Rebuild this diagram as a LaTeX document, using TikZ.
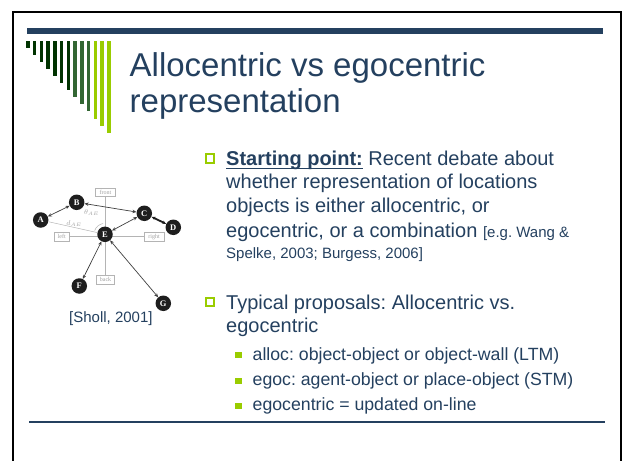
\documentclass[tikz,border=0pt]{standalone}
\usepackage{fontspec}
\setmainfont{Liberation Sans}
\newfontfamily\imgserif{Liberation Serif}
\usetikzlibrary{arrows.meta}
\definecolor{titleblue}{HTML}{24405F}
\definecolor{bargreenA}{HTML}{003300}
\definecolor{bargreenB}{HTML}{336633}
\definecolor{bargreenC}{HTML}{99CC00}
\definecolor{imggray}{HTML}{B4B4B4}
\definecolor{nodeblack}{HTML}{1E1E1E}
\newcommand\myul[1]{\setbox0\hbox{#1}\rlap{\rule[-4.2pt]{\wd0}{1.5pt}}\box0\relax}
\frenchspacing
\begin{document}
\begin{tikzpicture}[x=1pt,y=-1pt,
  txt/.style={inner sep=0pt,anchor=base west,text=titleblue},
  titletxt/.style={txt,font=\fontsize{33}{39}\selectfont},
  bodytxt/.style={txt,font=\fontsize{20}{24}\selectfont},
  subtxt/.style={txt,font=\fontsize{17.7}{21}\selectfont},
  smalltxt/.style={txt,font=\fontsize{15}{18}\selectfont},
  hollowbullet/.style={draw=bargreenC,line width=1.8pt},
  fillbullet/.style={fill=bargreenC},
  obj/.style={circle,fill=nodeblack,minimum size=15.5pt,inner sep=0pt,text=white,font=\imgserif\bfseries\fontsize{8.5}{8.5}\selectfont},
  dirbox/.style={draw=imggray,fill=white,inner sep=0.5pt,minimum height=8.5pt,line width=0.5pt,font=\imgserif\fontsize{6}{6}\selectfont,text=imggray!90!black},
  axis/.style={draw=imggray,line width=0.5pt},
  tipA/.tip={Stealth[length=4pt,width=3.4pt]},
  rel/.style={tipA-tipA,line width=0.7pt,draw=nodeblack!85},
  relthick/.style={tipA-tipA,line width=1.8pt,draw=nodeblack},
  lbl/.style={inner sep=0pt,text=imggray!90!black,font=\fontsize{7}{7}\selectfont}
]
\useasboundingbox (0,0) rectangle (622,461);
% frame
\draw[line width=2pt] (13,462) -- (13,12) -- (621,12) -- (621,462);
% top bar
\fill[titleblue] (27,28) rectangle (603,34);
% green bars
\foreach \i in {0,...,12}{
  \pgfmathsetmacro{\xl}{26+6.75*\i}
  \pgfmathsetmacro{\yb}{47.7+7.08*\i}
  \ifnum\i<7 \def\bc{bargreenA}\else\ifnum\i<10 \def\bc{bargreenB}\else\def\bc{bargreenC}\fi\fi
  \fill[\bc] (\xl,40.5) rectangle ({\xl+3.7},\yb);
}
% bottom line
\draw[titleblue,line width=1.3pt] (29,422) -- (605,422);

% title
\node[titletxt] (t1) at (129.5,76) {Allocentric vs egocentric};
\node[titletxt] (t2) at (129.5,112.7) {representation};

% figure (Sholl, 2001)
\node[dirbox,minimum width=20pt] (front) at (105.5,192) {front};
\node[dirbox,minimum width=15pt] (left) at (61.7,236.7) {left};
\node[dirbox,minimum width=20pt] (right) at (154,236.7) {right};
\node[dirbox,minimum width=18pt] (back) at (105.5,279.7) {back};
\draw[axis] (front.south) -- (back.north);
\draw[axis] (left.east) -- (right.west);
\node[obj] (A) at (40.7,220) {A};
\node[obj] (B) at (76.7,202.3) {B};
\node[obj] (C) at (144.3,213.3) {C};
\node[obj] (D) at (173.3,227.3) {D};
\node[obj] (E) at (105,234.3) {E};
\node[obj] (F) at (79.3,286) {F};
\node[obj] (G) at (163.3,303.3) {G};
\draw[axis] (A) -- (E);
\node[lbl] (dae) at (74,223.5) {$d_{AE}$};
\node[lbl] (tae) at (91.5,212.5) {$\theta_{AE}$};
\draw[axis] (103.1,223.5) arc[start angle=-100,end angle=-160,radius=11];
\draw[rel] (A) -- (B);
\draw[rel] (B) -- (C);
\draw[rel] (C) -- (E);
\draw[relthick] (C) -- (D);
\draw[rel] (E) -- (F);
\draw[rel] (E) -- (G);
\node[smalltxt] (sholl) at (69,322) {[Sholl, 2001]};

% bullet 1
\draw[hollowbullet] (205.7,154) rectangle (214.3,162.6);
\node[bodytxt] (b1l1) at (226,165) {\myul{\bfseries Starting point:} Recent debate about};
\node[bodytxt] (b1l2) at (226,188.5) {whether representation of locations};
\node[bodytxt] (b1l3) at (226,212.5) {objects is either allocentric, or};
\node[bodytxt] (b1l4) at (226,237) {egocentric, or a combination {\fontsize{15}{18}\selectfont [e.g. Wang \&}};
\node[smalltxt] (b1l5) at (226,258) {Spelke, 2003; Burgess, 2006]};

% bullet 2
\draw[hollowbullet] (205.7,297.7) rectangle (214.3,306.3);
\node[bodytxt] (b2l1) at (226,309) {Typical proposals: Allocentric vs.};
\node[bodytxt] (b2l2) at (226,332) {egocentric};

% sub bullets
\fill[bargreenC] (235,351.5) rectangle (241.5,358);
\fill[bargreenC] (235,377.5) rectangle (241.5,384);
\fill[bargreenC] (235,402.5) rectangle (241.5,409);
\node[subtxt] (s1) at (252.5,360) {alloc: object-object or object-wall (LTM)};
\node[subtxt] (s2) at (252.5,385.5) {egoc: agent-object or place-object (STM)};
\node[subtxt] (s3) at (252.5,410.7) {egocentric = updated on-line};
\end{tikzpicture}
\end{document}
